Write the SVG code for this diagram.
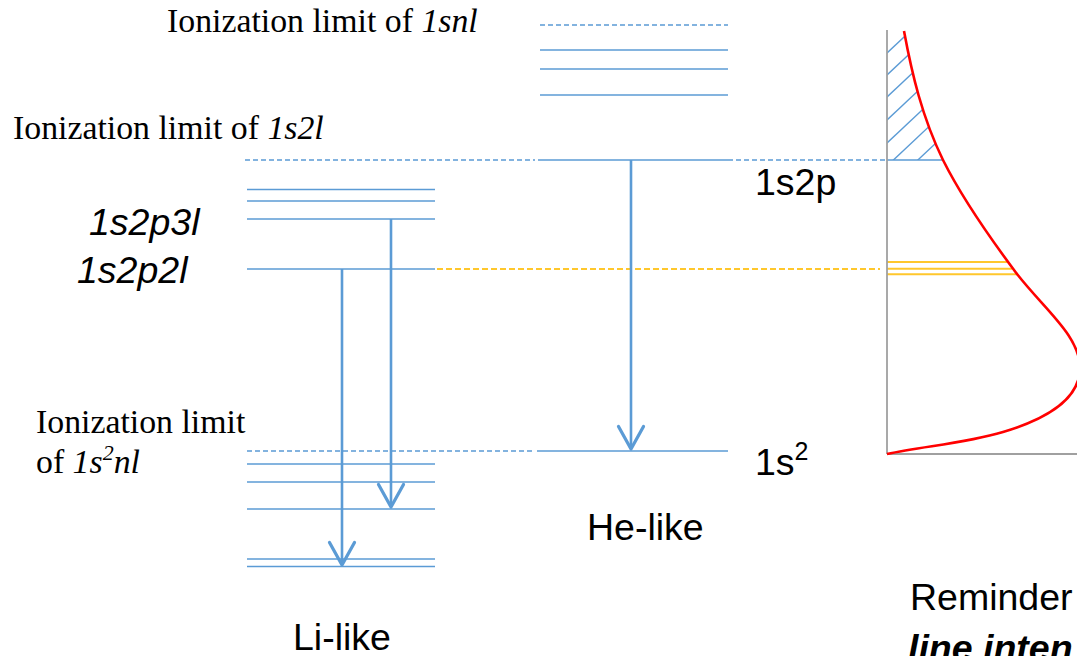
<svg xmlns="http://www.w3.org/2000/svg" width="1077" height="656" viewBox="0 0 1077 656">
<style>
.lvl{stroke:#5b9bd5;stroke-width:1.6;fill:none}
.dash{stroke:#5b9bd5;stroke-width:1.4;stroke-dasharray:5 3;fill:none}
.ydash{stroke:#ffc72c;stroke-width:1.8;stroke-dasharray:6 3;fill:none}
.yel{stroke:#ffc72c;stroke-width:2;fill:none}
.arr{stroke:#5b9bd5;stroke-width:2.6;fill:none}
.axis{stroke:#a0a0a0;stroke-width:1.8;fill:none}
.hatch{stroke:#5b9bd5;stroke-width:1.4;fill:none}
.serif{font-family:"Liberation Serif","Times New Roman",serif;font-size:33.8px;fill:#000}
.sans{font-family:"Liberation Sans",Arial,sans-serif;font-size:37.5px;fill:#000}
.it{font-style:italic}
</style>
<defs>
<marker id="vhead" markerUnits="userSpaceOnUse" markerWidth="30" markerHeight="30" viewBox="-20 -12 24 24" refX="0" refY="0" orient="auto">
<path d="M-18,-10 L0,0 L-18,10" fill="none" stroke="#5b9bd5" stroke-width="2.6" stroke-linejoin="round" stroke-linecap="round"/>
</marker>
<clipPath id="hclip"><path d="M887,31 L904,31 C912,74 922,117 943,160 L887,160 Z"/></clipPath>
</defs>

<g id="li-like">
<line class="dash" x1="245" y1="160" x2="535" y2="160"/>
<line class="lvl" x1="247" y1="189.5" x2="435" y2="189.5"/>
<line class="lvl" x1="247" y1="201" x2="435" y2="201"/>
<line class="lvl" x1="247" y1="219" x2="435" y2="219"/>
<line class="lvl" x1="247" y1="269" x2="435" y2="269"/>
<line class="dash" x1="247" y1="451" x2="535" y2="451"/>
<line class="lvl" x1="247" y1="464" x2="435" y2="464"/>
<line class="lvl" x1="247" y1="482" x2="435" y2="482"/>
<line class="lvl" x1="247" y1="509" x2="435" y2="509"/>
<line class="lvl" x1="247" y1="559" x2="435" y2="559"/>
<line class="lvl" x1="247" y1="566.5" x2="435" y2="566.5"/>
<text class="sans" x="293" y="650">Li-like</text>
</g>

<g id="he-like">
<line class="dash" x1="540" y1="25" x2="728" y2="25"/>
<line class="lvl" x1="540" y1="50" x2="728" y2="50"/>
<line class="lvl" x1="540" y1="69" x2="728" y2="69"/>
<line class="lvl" x1="540" y1="95" x2="728" y2="95"/>
<line class="lvl" x1="538" y1="160" x2="733" y2="160"/>
<line class="dash" x1="736" y1="160" x2="887" y2="160"/>
<line class="lvl" x1="537" y1="451" x2="728" y2="451"/>
<text class="sans" x="587" y="540">He-like</text>
</g>

<g id="yellow-link">
<line class="ydash" x1="437" y1="269" x2="880" y2="269"/>
</g>

<g id="labels">
<text class="serif" x="167" y="32">Ionization limit of <tspan class="it">1snl</tspan></text>
<text class="serif" x="13" y="139">Ionization limit of <tspan class="it">1s2l</tspan></text>
<text class="serif" x="36" y="433">Ionization limit</text>
<text class="serif" x="36" y="473">of <tspan class="it">1s</tspan><tspan class="it" font-size="22" dy="-13">2</tspan><tspan class="it" dy="13">nl</tspan></text>
<text class="sans it" x="89" y="235">1s2p3l</text>
<text class="sans it" x="77" y="283">1s2p2l</text>
<text class="sans" x="755" y="195">1s2p</text>
<text class="sans" x="755" y="475">1s<tspan font-size="25" dy="-15">2</tspan></text>
<text class="sans" x="910" y="610">Reminder</text>
<text class="sans it" x="908" y="661" font-weight="bold">line inten</text>
</g>

<g id="profile">
<g clip-path="url(#hclip)">
<line class="hatch" x1="880" y1="59.6" x2="960" y2="-15.6"/>
<line class="hatch" x1="880" y1="81.6" x2="960" y2="6.4"/>
<line class="hatch" x1="880" y1="103.6" x2="960" y2="28.4"/>
<line class="hatch" x1="880" y1="126.6" x2="960" y2="51.4"/>
<line class="hatch" x1="880" y1="149.6" x2="960" y2="74.4"/>
<line class="hatch" x1="880" y1="172.6" x2="960" y2="97.4"/>
<line class="hatch" x1="880" y1="195.6" x2="960" y2="120.4"/>
</g>
<line class="lvl" x1="887" y1="160" x2="943" y2="160"/>
<line class="yel" x1="887" y1="262" x2="1007" y2="262"/>
<line class="yel" x1="887" y1="268.7" x2="1012" y2="268.7"/>
<line class="yel" x1="887" y1="274.3" x2="1017" y2="274.3"/>
<line class="axis" x1="887" y1="30" x2="887" y2="454"/>
<line class="axis" x1="887" y1="454" x2="1077" y2="454"/>
<path d="M904,31 C912,74 922,117 943,160 C962,198 988.5,236 1017,274 C1045,310 1080,336 1080,368 C1080,398 1050,418 1003,432 C963,444 922,446 887,454" fill="none" stroke="#ff0000" stroke-width="2.6"/>
</g>

<g id="connectors">
<line class="arr" x1="342" y1="269" x2="342" y2="565" marker-end="url(#vhead)"/>
<line class="arr" x1="391" y1="219" x2="391" y2="507" marker-end="url(#vhead)"/>
<line class="arr" x1="631" y1="160" x2="631" y2="449" marker-end="url(#vhead)"/>
</g>
</svg>
